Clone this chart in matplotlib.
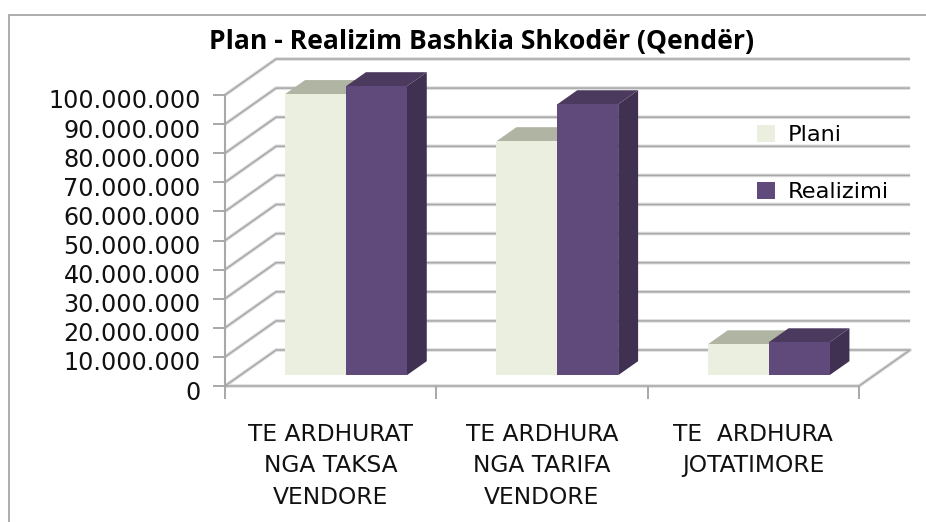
import matplotlib
matplotlib.use('Agg')
import matplotlib.pyplot as plt
from matplotlib.patches import Patch, Polygon, Rectangle
from matplotlib.transforms import ScaledTranslation

plt.rcParams['font.family'] = ['DejaVu Sans']

categories = ['TE ARDHURAT\nNGA TAKSA\nVENDORE', 'TE ARDHURA\nNGA TARIFA\nVENDORE', 'TE  ARDHURA\nJOTATIMORE']
plani = [96600000, 80400000, 10600000]
realizimi = [99300000, 93100000, 11300000]
y_ticks = list(range(0, 100000001, 10000000))
y_labels = [f'{v:,}'.replace(',', '.') for v in y_ticks]

W, H = 926, 522
GRID = '#a8a8a8'

# fake 3d: how far the back wall sits from the front plane, in data units
DX = 51 / 211
DY = 36 / 291 * 100000000
BAR_W = 0.288
BAR_GAP = 0.212
D_FRONT = 0.30
D_BACK = 0.69


def proj(x, v, d):
    return (x + d * DX, v + d * DY)


fig = plt.figure(figsize=(W / 100, H / 100), dpi=100)
ax = fig.add_axes([225 / W, 1 - 386 / H, 634 / W, 291 / H])
ax.set_xlim(0, 3)
ax.set_ylim(0, 100000000)
ax.patch.set_visible(False)
for s in ax.spines.values():
    s.set_visible(False)

# chart border
fig.add_artist(Rectangle((9 / W, -0.1), 1.1, 1.1 - 15 / H, transform=fig.transFigure,
                         fill=False, edgecolor='#a0a0a0', linewidth=1.2))

# gridlines: soft shadow first, then the line
for v in y_ticks:
    pts = [proj(0, v, 0), proj(0, v, 1), proj(3, v, 1)]
    if v == 0:
        pts = [proj(0, 0, 0), proj(0, 0, 1), proj(3, 0, 1), proj(3, 0, 0), proj(0, 0, 0)]
    xs = [p[0] for p in pts]
    ys = [p[1] for p in pts]
    ax.plot(xs, ys, color='#dddddd', lw=2.6, clip_on=False, zorder=1, solid_capstyle='butt')
    ax.plot(xs, ys, color=GRID, lw=1.1, clip_on=False, zorder=1.1, solid_capstyle='butt')
ax.plot([0, 0], [0, 100000000], color=GRID, lw=1.5, clip_on=False, zorder=1.2)


def bar3d(x, v, front, top, side, z):
    a = D_FRONT
    b = D_BACK
    ax.add_patch(Polygon([proj(x + BAR_W, 0, a), proj(x + BAR_W, 0, b), proj(x + BAR_W, v, b), proj(x + BAR_W, v, a)],
                         facecolor=side, edgecolor='none', clip_on=False, zorder=z))
    ax.add_patch(Polygon([proj(x, v, a), proj(x + BAR_W, v, a), proj(x + BAR_W, v, b), proj(x, v, b)],
                         facecolor=top, edgecolor='none', clip_on=False, zorder=z))
    ax.add_patch(Polygon([proj(x, 0, a), proj(x + BAR_W, 0, a), proj(x + BAR_W, v, a), proj(x, v, a)],
                         facecolor=front, edgecolor='none', clip_on=False, zorder=z + 0.1))


for i in range(len(categories)):
    bar3d(i + BAR_GAP, plani[i], '#ebefdf', '#b0b4a3', '#b0b4a3', 3 + i)
    bar3d(i + BAR_GAP + BAR_W, realizimi[i], '#604a7b', '#4b3a5e', '#403152', 3.5 + i)

ax.set_yticks(y_ticks)
ax.set_yticklabels(y_labels, fontsize=17.2, color='#111111')
ax.tick_params(axis='y', length=9, width=1.4, color=GRID, pad=8.5)
# labels sit a few pixels under their ticks in the original
down = ScaledTranslation(0, -4 / 100, fig.dpi_scale_trans)
for lab in ax.get_yticklabels():
    lab.set_transform(lab.get_transform() + down)
ax.set_xticks([0, 1, 2, 3])
ax.set_xticklabels([])
ax.tick_params(axis='x', which='major', length=9, width=1.4, color=GRID)
ax.set_xticks([0.5, 1.5, 2.5], minor=True)
ax.set_xticklabels(categories, minor=True, fontsize=16.8, color='#111111', linespacing=1.47, va='top')
ax.tick_params(axis='x', which='minor', length=0, pad=26.5)

fig.text(482 / W, 1 - 42 / H, 'Plan - Realizim Bashkia Shkodër (Qendër)', fontsize=19.1,
         fontweight='bold', ha='center', va='center', color='#000000', family='Open Sans')

handles = [Patch(facecolor='#ebefdf'), Patch(facecolor='#604a7b')]
fig.legend(handles, ['Plani', 'Realizimi'], loc='upper left', bbox_to_anchor=(757 / W, 1 - 125 / H),
           frameon=False, fontsize=16.2, handlelength=0.8, handleheight=0.8, handletextpad=0.55,
           labelspacing=1.62, borderaxespad=0, borderpad=0)

plt.savefig('out.png', dpi=100)
